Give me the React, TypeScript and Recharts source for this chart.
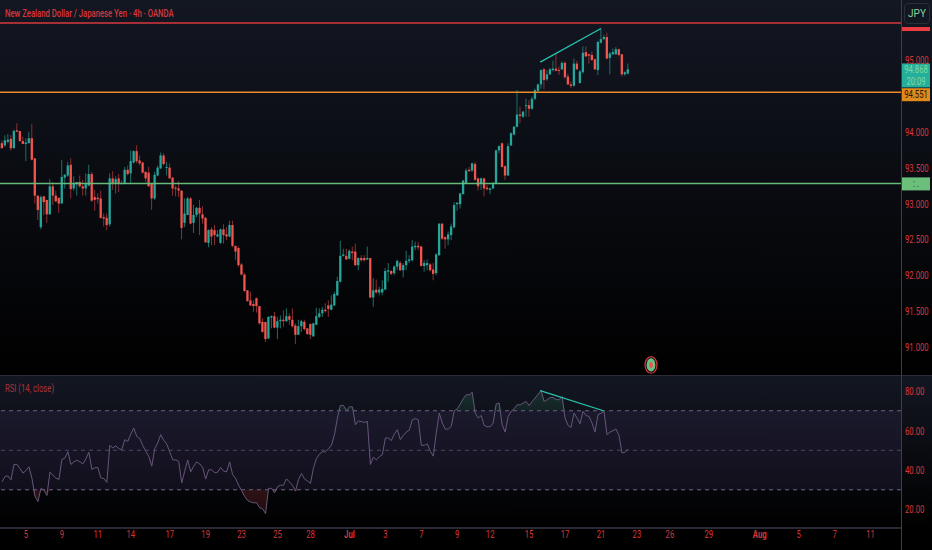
import {
  Area,
  Bar,
  ComposedChart,
  Line,
  ReferenceArea,
  ReferenceDot,
  ReferenceLine,
  XAxis,
  YAxis,
} from "recharts";

const opens = [
  93.84,93.81,93.86,93.90,93.77,94.02,94.01,93.87,93.83,93.84,
  93.91,93.63,93.11,92.67,93.10,93.05,92.85,93.24,93.11,93.08,
  93.00,93.36,93.39,93.54,93.21,93.27,93.30,93.24,93.21,93.25,
  93.41,93.09,93.08,93.07,92.81,92.80,92.71,93.35,93.28,93.35,
  93.27,93.28,93.47,93.42,93.57,93.73,93.60,93.57,93.44,93.43,
  93.28,93.07,93.39,93.49,93.67,93.50,93.50,93.36,93.22,93.21,
  93.18,92.73,92.84,93.07,92.73,92.84,92.94,92.85,92.80,92.45,
  92.64,92.63,92.54,92.45,92.64,92.57,92.54,92.70,92.41,92.38,
  92.15,92.01,91.79,91.65,91.60,91.68,91.57,91.35,91.35,91.12,
  91.41,91.43,91.27,91.36,91.38,91.36,91.43,91.38,91.30,91.17,
  91.29,91.35,91.26,91.32,91.15,91.31,91.42,91.47,91.52,91.58,
  91.52,91.58,91.72,91.91,92.27,92.27,92.23,92.33,92.33,92.14,
  92.24,92.24,92.22,92.24,91.69,91.80,91.76,91.76,91.80,92.05,
  92.06,92.03,92.12,92.17,92.07,92.14,92.20,92.21,92.39,92.41,
  92.40,92.13,92.14,92.15,92.08,92.03,92.28,92.72,92.53,92.50,
  92.56,92.67,92.99,92.99,93.13,93.28,93.47,93.46,93.55,93.35,
  93.28,93.35,93.22,93.19,93.21,93.28,93.74,93.84,93.52,93.39,
  93.81,93.96,94.07,94.24,94.21,94.36,94.37,94.32,94.46,94.57,
  94.66,94.87,94.73,94.80,94.86,94.88,94.86,94.87,94.96,94.77,
  94.66,94.64,94.95,94.68,94.83,95.11,95.08,95.07,95.01,94.86,
  95.24,95.29,95.32,95.03,95.08,95.08,95.15,95.08,94.80,94.81,
];

const closes = [
  93.77,93.88,93.89,93.77,94.01,94.00,93.87,93.83,93.85,93.91,
  93.61,93.11,92.91,93.09,93.02,92.85,93.24,93.11,93.03,93.00,
  93.37,93.40,93.53,93.20,93.28,93.30,93.24,93.21,93.27,93.41,
  93.04,93.05,93.06,92.80,92.79,92.70,93.35,93.28,93.34,93.28,
  93.285,93.47,93.41,93.59,93.73,93.59,93.56,93.43,93.35,93.24,
  93.07,93.40,93.50,93.67,93.55,93.51,93.35,93.21,93.21,93.18,
  92.66,92.86,93.07,92.72,92.84,92.94,92.86,92.79,92.46,92.63,
  92.54,92.56,92.57,92.64,92.56,92.54,92.70,92.41,92.33,92.14,
  92.01,91.78,91.64,91.58,91.57,91.57,91.33,91.21,91.11,91.42,
  91.43,91.27,91.36,91.38,91.36,91.43,91.38,91.29,91.17,91.29,
  91.36,91.25,91.18,91.17,91.33,91.43,91.47,91.52,91.50,91.53,
  91.59,91.74,91.92,92.27,92.29,92.22,92.34,92.31,92.14,92.24,
  92.21,92.21,92.24,91.69,91.79,91.76,91.80,91.81,92.06,92.07,
  92.02,92.12,92.20,92.07,92.14,92.20,92.22,92.40,92.41,92.39,
  92.13,92.17,92.17,92.07,92.02,92.29,92.72,92.51,92.50,92.57,
  92.68,92.98,93.01,93.14,93.32,93.46,93.45,93.56,93.33,93.24,
  93.35,93.21,93.20,93.21,93.27,93.74,93.80,93.51,93.39,93.80,
  93.98,94.07,94.24,94.22,94.28,94.37,94.32,94.46,94.58,94.66,
  94.86,94.72,94.80,94.87,94.88,94.85,94.85,94.96,94.76,94.66,
  94.64,94.95,94.87,94.84,95.10,95.05,95.06,95.00,94.87,95.25,
  95.29,95.32,95.02,95.09,95.11,95.15,95.07,94.80,94.83,94.87,
];

const highs = [
  93.88,93.95,93.97,93.95,94.03,94.12,94.01,93.93,93.91,94.00,
  94.11,93.63,93.11,93.11,93.10,93.05,93.34,93.30,93.18,93.08,
  93.61,93.41,93.58,93.63,93.38,93.30,93.39,93.33,93.42,93.54,
  93.44,93.19,93.14,93.18,92.86,92.86,93.42,93.45,93.38,93.41,
  93.32,93.51,93.53,93.74,93.74,93.81,93.67,93.58,93.45,93.51,
  93.28,93.44,93.53,93.71,93.70,93.58,93.56,93.37,93.25,93.31,
  93.18,93.07,93.09,93.09,92.98,92.95,93.05,92.96,92.81,92.64,
  92.67,92.70,92.63,92.65,92.71,92.67,92.76,92.76,92.41,92.40,
  92.17,92.03,91.79,91.77,91.65,91.69,91.57,91.40,91.35,91.43,
  91.44,91.49,91.42,91.44,91.51,91.54,91.47,91.54,91.33,91.38,
  91.38,91.38,91.26,91.33,91.34,91.55,91.54,91.56,91.61,91.65,
  91.72,91.77,91.98,92.48,92.37,92.37,92.36,92.40,92.44,92.25,
  92.28,92.28,92.40,92.24,91.96,91.94,91.84,91.93,92.10,92.17,
  92.07,92.14,92.22,92.20,92.17,92.34,92.28,92.49,92.47,92.47,
  92.41,92.21,92.22,92.17,92.17,92.31,92.72,92.72,92.54,92.61,
  92.72,93.02,93.02,93.15,93.33,93.49,93.51,93.57,93.58,93.36,
  93.36,93.36,93.26,93.22,93.30,93.75,93.81,93.85,93.53,93.84,
  93.99,94.08,94.58,94.35,94.29,94.46,94.44,94.49,94.60,94.67,
  94.87,94.89,94.86,94.89,94.99,95.09,94.91,94.98,94.98,94.81,
  94.70,95.02,94.99,94.86,95.19,95.19,95.09,95.12,95.02,95.27,
  95.44,95.35,95.38,95.11,95.16,95.18,95.16,95.08,94.84,94.95,
];

const lows = [
  93.77,93.79,93.84,93.74,93.77,94.00,93.86,93.83,93.59,93.84,
  93.60,93.00,92.77,92.64,92.84,92.73,92.84,92.98,93.02,92.87,
  93.00,93.21,93.37,93.07,93.18,93.11,93.22,93.11,93.11,93.24,
  93.02,92.90,93.00,92.79,92.68,92.63,92.68,93.19,93.14,93.16,
  93.27,93.28,93.39,93.28,93.56,93.56,93.53,93.42,93.30,93.23,
  92.91,93.05,93.38,93.48,93.53,93.39,93.35,93.11,93.10,93.09,
  92.50,92.67,92.84,92.71,92.59,92.81,92.56,92.72,92.45,92.39,
  92.42,92.42,92.53,92.44,92.44,92.49,92.53,92.39,92.21,92.12,
  92.00,91.77,91.63,91.57,91.49,91.48,91.31,91.20,91.07,91.11,
  91.26,91.26,91.11,91.26,91.28,91.35,91.31,91.27,91.04,91.17,
  91.21,91.23,91.17,91.11,91.14,91.31,91.40,91.42,91.48,91.42,
  91.51,91.57,91.71,91.90,92.26,92.22,92.22,92.21,92.13,92.07,
  92.19,92.19,92.21,91.68,91.56,91.74,91.72,91.72,91.80,91.91,
  92.00,92.00,92.07,92.06,91.97,92.07,92.17,92.19,92.35,92.35,
  92.12,92.05,92.07,92.05,91.93,92.00,92.27,92.49,92.37,92.42,
  92.49,92.65,92.90,92.93,93.13,93.27,93.44,93.44,93.32,93.18,
  93.19,93.10,93.18,93.13,93.20,93.27,93.70,93.50,93.33,93.39,
  93.80,93.95,94.06,94.12,94.19,94.21,94.21,94.31,94.44,94.56,
  94.60,94.59,94.71,94.79,94.84,94.84,94.79,94.86,94.74,94.65,
  94.61,94.63,94.86,94.67,94.81,95.04,94.95,94.99,94.86,94.79,
  95.23,95.28,95.01,94.80,95.07,95.07,95.05,94.77,94.78,94.80,
];

const rsiValues = [
  34,36.7,37,35,42.8,42.8,40.8,38.4,39.7,41.6,
  35.7,26.8,24,30.7,29.8,27.1,38.9,37.4,35.9,35.2,
  45.3,46.1,49.2,42.8,44.1,45,44.1,43.1,45.6,49,
  40.3,41.1,41.3,36,35.7,33.7,52.5,51.2,52.2,50.8,
  50.3,55.4,54.5,58.2,61.2,57,55.9,52.5,49.5,47,
  41.9,50.8,53.7,57.9,55,53.2,49.2,45.1,45.1,44.4,
  33.4,39.4,45.1,39.1,41.9,44.1,43.1,41.4,35.4,40.1,
  40.1,38.6,38.9,41.3,39.4,39.1,44.1,37.7,35.7,32.3,
  29.6,26.6,24.6,23.8,23.4,23.4,20.9,20.4,17.9,30.7,
  30.7,28.5,31.5,32.3,32.3,35.5,33.9,32.2,29.3,35.2,
  38.2,35.5,34.4,33.2,41.1,45.8,48.1,49.2,49.2,50.8,
  52.5,57.9,66.3,72.7,72.7,70,72,72,62.9,64.8,
  64.5,64.1,64.6,42.8,46.5,45.1,46.8,47.8,56.2,56.2,
  54.9,58.2,60.4,55.4,57.6,59.2,60.2,65.5,66,65.5,
  52.5,52.5,53.2,49.5,47,58.7,68.8,63.8,60.7,60.7,
  62.1,70,71,73.4,76.1,78.1,78.1,79.4,68.8,66.3,
  67.6,62.6,61.9,61.9,63.8,73.4,73.9,62.9,59.2,67.1,
  69.7,71,73,73,73.9,74.7,72.7,74.7,76.4,78.4,
  80.3,74.7,75.6,76.7,76.7,75.6,75.6,77.2,66.3,62.6,
  61.6,68.8,66.3,63.4,69.7,67.6,67.1,63.8,59.2,68,
  68.7,69.7,57.9,59.2,59.9,60.7,57.6,48.7,48.9,50.5,
];

const priceTicks = [95, 94, 93.5, 93, 92.5, 92, 91.5, 91];
const rsiTicks = [80, 60, 40, 20];
const dateTickIndexes = [8, 20, 32, 43, 56, 68, 80, 92, 103, 116, 128, 140, 152, 163, 176, 188, 200, 212, 223, 236, 253, 266, 278, 290];
const dateTickLabels = ["5", "9", "11", "14", "17", "19", "23", "25", "28", "Jul", "3", "7", "9", "12", "15", "17", "21", "23", "26", "29", "Aug", "5", "7", "11"];

const priceLevels = { resistance: 95.515, pivot: 94.551, support: 93.28, last: 94.868 };

const candles = opens.map((open, i) => ({
  idx: i,
  open,
  close: closes[i],
  high: highs[i],
  low: lows[i],
}));

const rsiRows = rsiValues.map((rsi, i) => ({
  idx: i,
  rsi,
  over: [70, Math.max(rsi, 70)],
  under: [Math.min(rsi, 30), 30],
}));

const indexDomain: [number, number] = [-0.67, 300.17];
const font = "Roboto, sans-serif";
const red = "#d8363c";
// the labels in the picture are squeezed sideways
const squeeze = 0.7;

function NarrowTick({ x, y, payload, anchor, format, bold }: any) {
  return (
    <g transform={`translate(${x},${y}) scale(${squeeze},1)`}>
      <text
        dy={4}
        fill={red}
        fontSize={11}
        fontFamily={font}
        fontWeight={bold && bold(payload.value) ? 700 : 400}
        textAnchor={anchor}
      >
        {format(payload.value)}
      </text>
    </g>
  );
}

function Candle({ x, y, width, height, payload }: any) {
  const { open, close, high, low } = payload;
  const up = close >= open;
  const perUnit = high > low ? height / (high - low) : 0;
  const bodyY = y + (high - Math.max(open, close)) * perUnit;
  const bodyH = Math.max(Math.abs(close - open) * perUnit, 1);
  const mid = x + width / 2;
  return (
    <g>
      <line x1={mid} x2={mid} y1={y} y2={y + height} stroke={up ? "#1d6f68" : "#8a2f33"} strokeWidth={1} />
      <rect x={mid - 1.15} y={bodyY} width={2.3} height={bodyH} fill={up ? "#26a69a" : "#f2544e"} />
    </g>
  );
}

function PriceTag({ viewBox, fill, color, lines, top, height }: any) {
  const x = viewBox.x + viewBox.width + 1;
  const y = viewBox.y + top;
  return (
    <g>
      <rect x={x} y={y} width={28} height={height} fill={fill} />
      {lines.map((line: string, i: number) => (
        <g key={i} transform={`translate(${x + 14},${y + 10 + i * 11.5}) scale(${squeeze},1)`}>
          <text fill={color} fontSize={11} fontFamily={font} textAnchor="middle">
            {line}
          </text>
        </g>
      ))}
    </g>
  );
}

function EarningsMark({ cx, cy }: any) {
  return (
    <g>
      <ellipse cx={cx} cy={cy} rx={6} ry={8.3} fill="#10141c" stroke="#d8363c" strokeWidth={1.2} />
      <ellipse cx={cx} cy={cy} rx={4.4} ry={6.6} fill="#6cc07e" />
      <ellipse cx={cx} cy={cy} rx={1.8} ry={3} fill="#ef5350" />
    </g>
  );
}

export default function App() {
  return (
    <div style={{ position: "absolute", left: 0, top: 0, width: 932, height: 550, overflow: "hidden", background: "#000" }}>
      <div style={{ position: "absolute", left: 0, top: 0, width: 932, height: 375, background: "linear-gradient(#131722, #000)" }} />
      <div style={{ position: "absolute", left: 0, top: 376, width: 932, height: 152, background: "linear-gradient(#131722, #000)" }} />
      <div style={{ position: "absolute", left: 0, top: 375, width: 932, height: 1, background: "#2d2a3a" }} />
      <div style={{ position: "absolute", left: 901, top: 0, width: 1, height: 550, background: "#403c50" }} />

      <div style={{ position: "absolute", left: 0, top: 0 }}>
        <ComposedChart width={932} height={375} data={candles} margin={{ top: 0, right: 0, bottom: 0, left: 0 }}>
          <XAxis dataKey="idx" type="number" domain={indexDomain} hide allowDataOverflow />
          <YAxis
            orientation="right"
            width={31}
            domain={[90.61, 95.836]}
            ticks={priceTicks}
            allowDataOverflow
            axisLine={false}
            tickLine={false}
            tickSize={0}
            tickMargin={4}
            interval={0}
            tick={<NarrowTick anchor="start" format={(v: number) => v.toFixed(3)} />}
          />
          <ReferenceLine
            y={priceLevels.resistance}
            stroke="#d8383c"
            strokeWidth={1.5}
            label={<PriceTag fill="#e83c42" color="#e83c42" lines={[]} top={4} height={4} />}
          />
          <ReferenceLine
            y={priceLevels.support}
            stroke="#66bb7a"
            strokeWidth={1.5}
            label={<PriceTag fill="#6bbf7b" color="#1c3a24" lines={[":   ."]} top={-6} height={13} />}
          />
          <Bar dataKey={(d: any) => [d.low, d.high]} barSize={3} shape={<Candle />} isAnimationActive={false} />
          <ReferenceLine
            y={priceLevels.pivot}
            stroke="#e88a2a"
            strokeWidth={1.5}
            label={<PriceTag fill="#e08a1e" color="#2a1500" lines={["94.551"]} top={-4} height={13} />}
          />
          <ReferenceLine
            y={priceLevels.last}
            stroke="none"
            label={<PriceTag fill="#24ae9c" color="#7fdc9e" lines={["94.868", "20:09"]} top={-6} height={24} />}
          />
          <ReferenceLine
            segment={[{ x: 179.7, y: 94.97 }, { x: 200, y: 95.44 }]}
            stroke="#26c6b0"
            strokeWidth={1.2}
          />
          <ReferenceDot x={216.7} y={90.75} r={6} shape={<EarningsMark />} />
        </ComposedChart>
      </div>

      <div style={{ position: "absolute", left: 0, top: 376 }}>
        <ComposedChart width={932} height={174} data={rsiRows} margin={{ top: 0, right: 0, bottom: 0, left: 0 }}>
          <defs>
            <linearGradient id="overFill" x1="0" x2="0" y1="0" y2="1">
              <stop offset="0%" stopColor="#2f7d5c" stopOpacity={0.45} />
              <stop offset="100%" stopColor="#2f7d5c" stopOpacity={0.25} />
            </linearGradient>
            <linearGradient id="underFill" x1="0" x2="0" y1="0" y2="1">
              <stop offset="0%" stopColor="#b03a40" stopOpacity={0.4} />
              <stop offset="100%" stopColor="#b03a40" stopOpacity={0.3} />
            </linearGradient>
          </defs>
          <XAxis
            dataKey="idx"
            type="number"
            domain={indexDomain}
            allowDataOverflow
            height={22}
            ticks={dateTickIndexes}
            interval={0}
            stroke="#55506a"
            tickLine={false}
            tickSize={0}
            tickMargin={6}
            tick={
              <NarrowTick
                anchor="middle"
                format={(v: number) => dateTickLabels[dateTickIndexes.indexOf(v)]}
                bold={(v: number) => /[A-Z]/.test(dateTickLabels[dateTickIndexes.indexOf(v)])}
              />
            }
          />
          <YAxis
            orientation="right"
            width={31}
            domain={[10.63, 87.6]}
            ticks={rsiTicks}
            allowDataOverflow
            axisLine={false}
            tickLine={false}
            tickSize={0}
            tickMargin={4}
            interval={0}
            tick={<NarrowTick anchor="start" format={(v: number) => v.toFixed(2)} />}
          />
          <ReferenceArea y1={30} y2={70} fill="#7e57c2" fillOpacity={0.11} stroke="none" />
          <ReferenceLine y={70} stroke="#6d6480" strokeDasharray="4 4" />
          <ReferenceLine y={50} stroke="#4f4860" strokeDasharray="4 4" />
          <ReferenceLine y={30} stroke="#6d6480" strokeDasharray="4 4" />
          <Area dataKey="over" type="linear" stroke="none" fill="url(#overFill)" dot={false} activeDot={false} isAnimationActive={false} />
          <Area dataKey="under" type="linear" stroke="none" fill="url(#underFill)" dot={false} activeDot={false} isAnimationActive={false} />
          <Line dataKey="rsi" type="linear" stroke="#66567a" strokeWidth={1} dot={false} activeDot={false} isAnimationActive={false} />
          <ReferenceLine
            segment={[{ x: 179.7, y: 80.2 }, { x: 200.8, y: 70 }]}
            stroke="#26c6b0"
            strokeWidth={1.2}
          />
        </ComposedChart>
      </div>

      <div
        style={{
          position: "absolute",
          left: 5,
          top: 6,
          color: red,
          fontFamily: font,
          fontSize: 11.5,
          fontWeight: 500,
          whiteSpace: "nowrap",
          transform: "scaleX(0.67)",
          transformOrigin: "left top",
        }}
      >
        New Zealand Dollar / Japanese Yen · 4h · OANDA
      </div>
      <div
        style={{
          position: "absolute",
          left: 5,
          top: 382,
          color: "#a8343a",
          fontFamily: font,
          fontSize: 11,
          whiteSpace: "nowrap",
          transform: "scaleX(0.7)",
          transformOrigin: "left top",
        }}
      >
        RSI (14, close)
      </div>
      <div
        style={{
          position: "absolute",
          left: 904,
          top: 3,
          width: 24,
          height: 19,
          lineHeight: "19px",
          textAlign: "center",
          border: "1px solid #2a2e39",
          borderRadius: 4,
          background: "#131722",
          color: "#8fcf9f",
          fontFamily: font,
          fontSize: 10,
        }}
      >
        JPY
      </div>
    </div>
  );
}
